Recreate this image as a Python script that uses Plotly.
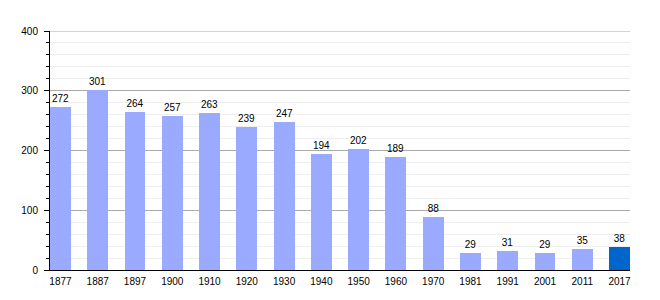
import plotly.graph_objects as go

years = ["1877", "1887", "1897", "1900", "1910", "1920", "1930", "1940",
         "1950", "1960", "1970", "1981", "1991", "2001", "2011", "2017"]
population = [272, 301, 264, 257, 263, 239, 247, 194, 202, 189, 88, 29, 31, 29, 35, 38]
y_ticks = [0, 100, 200, 300, 400]

base_color = "#99AAFF"
last_color = "#0066CC"
colors = [base_color] * (len(years) - 1) + [last_color]
positions = list(range(len(years)))
bar_w = 0.56

fig = go.Figure(go.Bar(
    x=positions,
    y=population,
    width=bar_w,
    marker=dict(color=colors, line=dict(width=0)),
    text=[str(v) for v in population],
    textposition="outside",
    textfont=dict(size=10, color="#000000"),
    cliponaxis=False,
))

fig.update_layout(
    width=660, height=300,
    margin=dict(l=50, r=30, t=31, b=30),
    plot_bgcolor="white", paper_bgcolor="white",
    font=dict(family="Liberation Sans, Arial, sans-serif", size=10, color="#000000"),
    showlegend=False,
    bargap=0,
)
# top gridline at the axis maximum
fig.add_shape(type="line", xref="paper", yref="y", x0=0, x1=1,
              y0=y_ticks[-1], y1=y_ticks[-1],
              line=dict(color="#AAAAAA", width=1), layer="below")
fig.update_xaxes(
    range=[-bar_w / 2, len(years) - 1 + bar_w / 2],
    tickvals=positions, ticktext=years,
    showgrid=False, zeroline=False,
    showline=True, linecolor="#000000", linewidth=1,
    ticks="", ticklabelstandoff=2,
    tickfont=dict(size=10),
)
fig.update_yaxes(
    range=[0, 400],
    tickvals=y_ticks,
    showgrid=True, gridcolor="#AAAAAA", gridwidth=1,
    zeroline=False,
    showline=True, linecolor="#000000", linewidth=1,
    ticks="outside", ticklen=5, tickcolor="#000000",
    minor=dict(dtick=20, ticks="outside", ticklen=3, tickcolor="#000000",
               showgrid=True, gridcolor="#EEEEEE", gridwidth=1),
    tickfont=dict(size=10),
    ticklabelstandoff=4,
)

fig.write_html("out.html")
